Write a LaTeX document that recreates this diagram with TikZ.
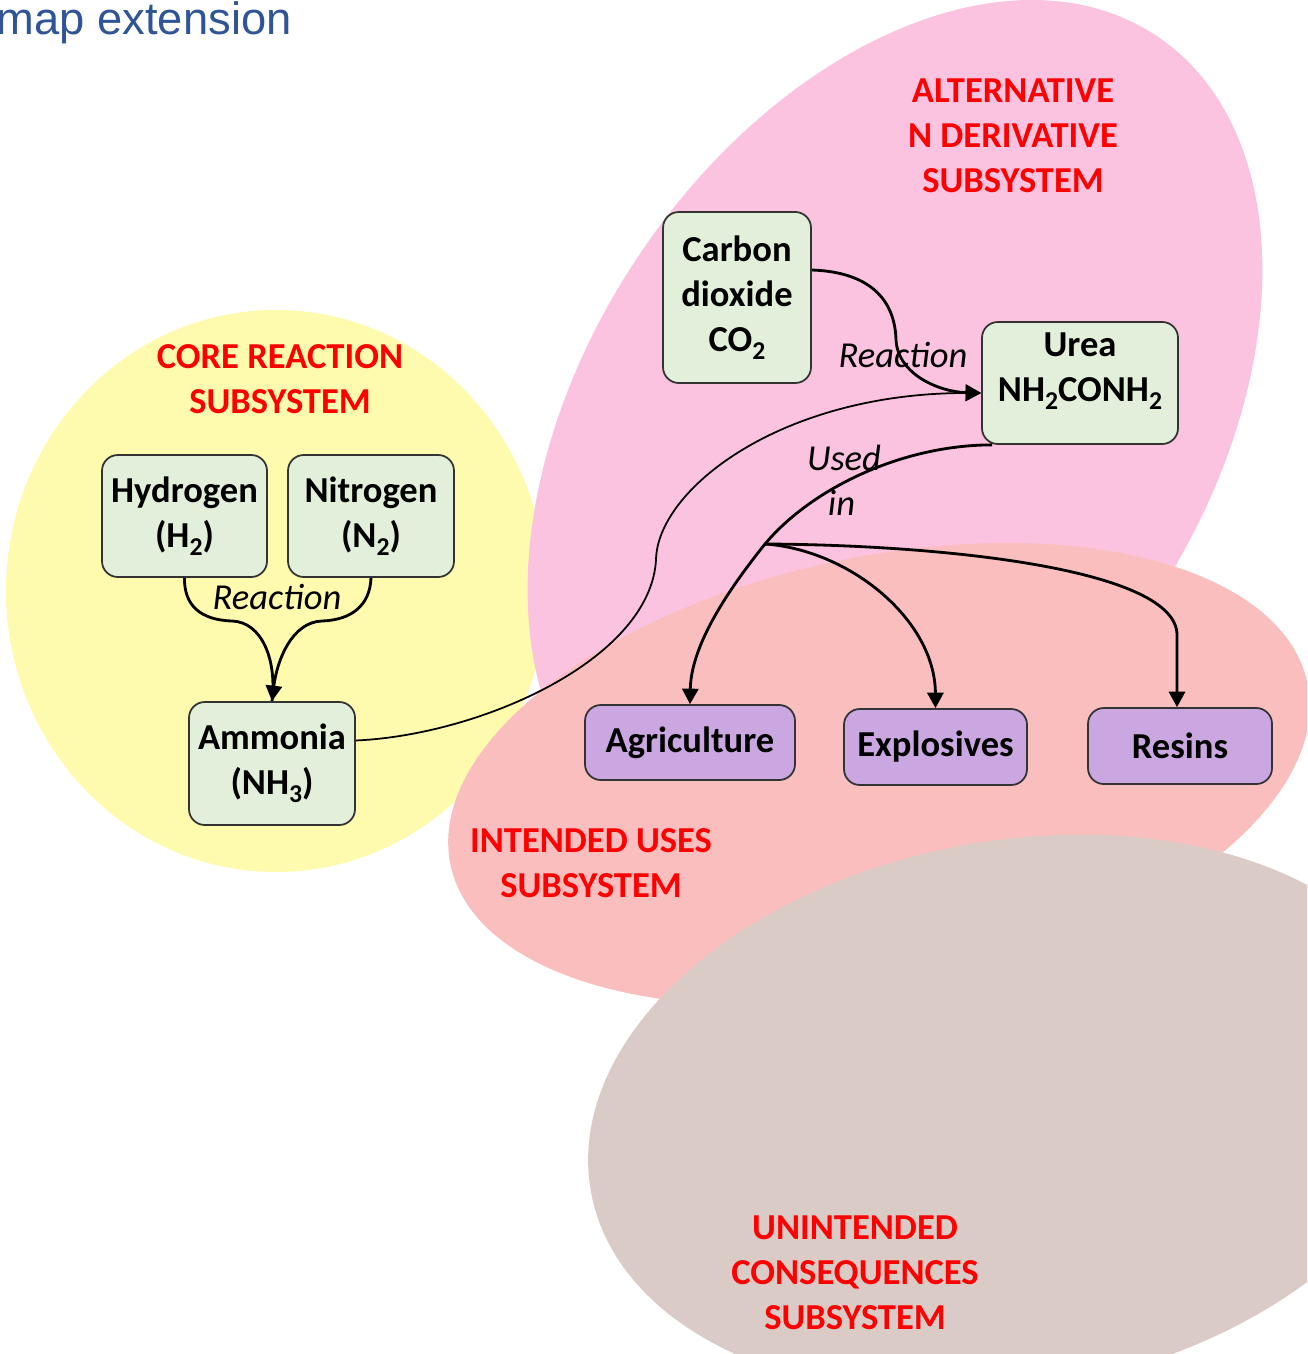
\documentclass[tikz,border=0pt]{standalone}
\usepackage{fontspec}
\setmainfont{Carlito}
\newfontfamily\titlefont{Liberation Sans}
\usetikzlibrary{arrows.meta}
\definecolor{yellowc}{HTML}{FFFBAE}
\definecolor{pinkc}{HTML}{FBC3DF}
\definecolor{salmonc}{HTML}{FBBEBE}
\definecolor{brownc}{HTML}{DACBC7}
\definecolor{greenc}{HTML}{E2EFDA}
\definecolor{purplec}{HTML}{CBA7E2}
\definecolor{titleblue}{HTML}{2F5597}
\newcommand\sbsc[1]{\raisebox{-0.45ex}{\fontsize{7.3}{7.3}\selectfont #1}}
\tikzset{
  base/.style={draw=black!80, line width=0.5pt, rounded corners=4.5pt, inner sep=0pt, align=center,
    font=\fontsize{10.4}{12.8}\selectfont\bfseries},
  chem/.style={base, fill=greenc},
  use/.style={base, fill=purplec},
  hdr/.style={align=center, text=red, font=\fontsize{10.4}{12.8}\selectfont\bfseries},
  lbl/.style={align=center, font=\fontsize{10.4}{12.8}\selectfont\itshape},
  conn/.style={line width=0.8pt},
  thinconn/.style={line width=0.5pt},
  tip/.style={-{Triangle[length=4.4pt,width=4.6pt]}}
}
\begin{document}
\begin{tikzpicture}
\useasboundingbox (0,0) rectangle (13.07,-13.54);
\clip (0,0) rectangle (13.07,-13.54);
% subsystem regions
\fill[yellowc] (2.76,-5.91) ellipse [x radius=2.70, y radius=2.81];
\fill[pinkc, rotate around={56.5:(8.95,-4.30)}] (8.95,-4.30) ellipse [x radius=4.73, y radius=3.10];
\fill[salmonc, rotate around={12:(8.79,-7.74)}] (8.79,-7.74) ellipse [x radius=4.38, y radius=2.17];
\fill[brownc, rotate around={10.4:(10.12,-11.15)}] (10.12,-11.15) ellipse [x radius=4.28, y radius=2.74];

% title
\node[anchor=base west, inner sep=0pt, text=titleblue, font=\titlefont\fontsize{12.9}{15}\selectfont] (title) at (-0.04,-0.35) {map extension};

% headers
\node[hdr] (hAlt) at (10.13,-1.36) {ALTERNATIVE\\N DERIVATIVE\\SUBSYSTEM};
\node[hdr] (hCore) at (2.80,-3.79) {CORE REACTION\\SUBSYSTEM};
\node[hdr] (hInt) at (5.91,-8.635) {INTENDED USES\\SUBSYSTEM};
\node[hdr] (hUn) at (8.55,-12.73) {UNINTENDED\\CONSEQUENCES\\SUBSYSTEM};

% nodes
\node[chem, minimum width=1.65cm, minimum height=1.22cm] (H) at (1.845,-5.16) {Hydrogen\\(H\sbsc{2})};
\node[chem, minimum width=1.66cm, minimum height=1.22cm] (N) at (3.71,-5.16) {Nitrogen\\(N\sbsc{2})};
\node[chem, minimum width=1.66cm, minimum height=1.23cm] (A) at (2.72,-7.635) {Ammonia\\(NH\sbsc{3})};
\node[chem, minimum width=1.48cm, minimum height=1.71cm] (C) at (7.37,-2.975) {Carbon\\dioxide\\CO\sbsc{2}};
\node[chem, minimum width=1.96cm, minimum height=1.22cm, text depth=0.32cm] (U) at (10.80,-3.83) {Urea\\NH\sbsc{2}CONH\sbsc{2}};
\node[use, minimum width=2.10cm, minimum height=0.75cm] (Ag) at (6.90,-7.425) {Agriculture};
\node[use, minimum width=1.83cm, minimum height=0.76cm] (Ex) at (9.355,-7.47) {Explosives};
\node[use, minimum width=1.84cm, minimum height=0.76cm] (Re) at (11.80,-7.46) {Resins};

% connectors: H2 + N2 -> NH3
\draw[conn] (H.south) .. controls (1.84,-6.05) and (2.0,-6.20) .. (2.32,-6.21)
  .. controls (2.62,-6.22) and (2.77,-6.6) .. (A.north);
\draw[conn, tip] (N.south) .. controls (3.70,-6.05) and (3.52,-6.20) .. (3.22,-6.21)
  .. controls (2.92,-6.22) and (2.77,-6.6) .. (A.north);
\node[lbl] (rl1) at (2.77,-5.97) {Reaction};

% CO2 -> Urea
\draw[conn, tip] ([yshift=0.275cm]C.east) .. controls (8.7,-2.72) and (8.95,-3.0) .. (8.96,-3.40)
  .. controls (8.98,-3.75) and (9.4,-3.92) .. ([yshift=-0.10cm]U.west);
\node[lbl] (rl2) at (9.03,-3.55) {Reaction};

% NH3 -> Urea
\draw[thinconn, tip] ([yshift=0.23cm]A.east) .. controls (4.8,-7.35) and (6.5,-6.6) .. (6.56,-5.60)
  .. controls (6.57,-4.9) and (7.8,-3.93) .. ([yshift=-0.10cm]U.west);

% Urea -> uses
\coordinate (br) at (7.65,-5.44);
\draw[conn, tip] ([xshift=0.11cm]U.south west) .. controls (9.0,-4.45) and (8.1,-4.9) .. (br)
  .. controls (7.2,-6.0) and (6.91,-6.5) .. (Ag.north);
\draw[conn, tip] (br) .. controls (8.5,-5.5) and (9.35,-6.2) .. (Ex.north);
\draw[conn, tip] (br) .. controls (9.5,-5.45) and (11.77,-5.7) .. (11.77,-6.35) -- ([xshift=-0.03cm]Re.north);
\node[lbl] (ul) at (8.44,-4.80) {Used\\\hspace*{-0.05cm}in};
\end{tikzpicture}
\end{document}
